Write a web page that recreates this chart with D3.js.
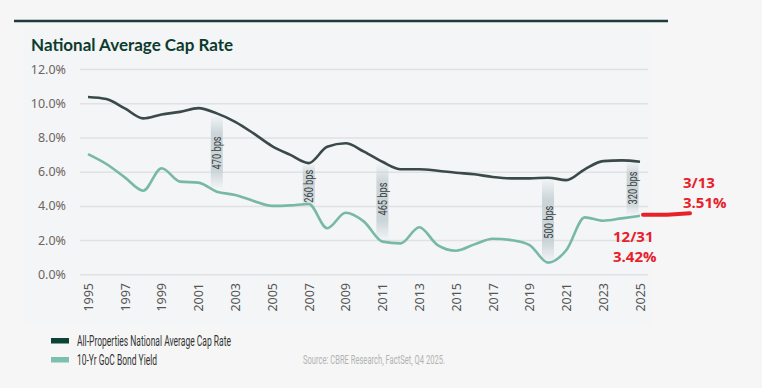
<!DOCTYPE html>
<html>
<head>
<meta charset="utf-8">
<script src="https://cdn.jsdelivr.net/npm/d3@7"></script>
<style>
  body { margin: 0; background: #f5f6f5; }
  svg { display: block; }
  .narrow { font-family: "Roboto", "Liberation Sans", sans-serif; }
</style>
</head>
<body>
<svg id="chart" width="762" height="388"></svg>
<script>
// years on the x axis
var years = d3.range(1995, 2026);
// all-properties national average cap rate (%)
var capRate = [10.37, 10.25, 9.7, 9.12, 9.35, 9.5, 9.72, 9.41, 8.92, 8.24, 7.5, 6.98, 6.5, 7.46, 7.66, 7.17, 6.58, 6.14, 6.14, 6.06, 5.94, 5.85, 5.69, 5.61, 5.61, 5.65, 5.51, 6.14, 6.62, 6.66, 6.58];
// 10-yr GoC bond yield (%)
var bondYield = [7.03, 6.45, 5.67, 4.89, 6.2, 5.42, 5.36, 4.83, 4.64, 4.29, 4.0, 4.03, 4.11, 2.69, 3.6, 3.08, 1.91, 1.81, 2.75, 1.71, 1.38, 1.75, 2.08, 2.0, 1.71, 0.68, 1.42, 3.33, 3.13, 3.27, 3.42];
var yTicks = [0, 2, 4, 6, 8, 10, 12];
var xTicks = d3.range(1995, 2026, 2);
// spread call-outs
var spreadYears = [2002, 2007, 2011, 2020, 2024.6];
var spreadLabels = ["470 bps", "260 bps", "465 bps", "500 bps", "320 bps"];
var spreadTop = [9.3, 6.5, 6.5, 5.6, 6.6];
var spreadBottom = [5.0, 3.9, 2.0, 0.7, 3.45];
var spreadText = [7.1, 5.15, 4.4, 3.05, 5.05];
// latest marks
var latestLabels = [["3/13", "3.51%"], ["12/31", "3.42%"]];
var latestValue = 3.51;

var svg = d3.select("#chart");

var x = d3.scaleLinear().domain([1995, 2025]).range([88, 640]);
var y = d3.scaleLinear().domain([0, 12]).range([274.3, 69.1]);

// panel bg
svg.append("rect").attr("x", 23).attr("y", 30).attr("width", 628).attr("height", 296).attr("fill", "#f3f5f7");

svg.append("line").attr("x1", 14).attr("x2", 668).attr("y1", 21).attr("y2", 21)
  .attr("stroke", "#1f3b3b").attr("stroke-width", 2.5);

svg.append("text").attr("x", 31).attr("y", 51)
  .attr("font-family", "Lato, 'Open Sans', sans-serif").attr("font-weight", 700)
  .attr("font-size", 17).attr("fill", "#0c3b2e").text("National Average Cap Rate");

// grid
var yAxis = svg.append("g").attr("transform", "translate(80,0)")
  .call(d3.axisLeft(y).tickValues(yTicks).tickSize(-568).tickFormat(function(d) { return d.toFixed(1) + "%"; }));
yAxis.select(".domain").remove();
yAxis.selectAll(".tick line").attr("stroke", "#e0e1e3").attr("stroke-width", 1.5);
yAxis.selectAll(".tick text").attr("x", -14).attr("fill", "#6e655e")
  .attr("font-family", "'Noto Sans', sans-serif").attr("font-size", 12.5);

var xAxis = svg.append("g").attr("transform", "translate(0,283)")
  .call(d3.axisBottom(x).tickValues(xTicks).tickSize(0).tickFormat(d3.format("d")));
xAxis.select(".domain").remove();
xAxis.selectAll(".tick text")
  .attr("transform", "rotate(-90)").attr("text-anchor", "end").attr("dx", 0).attr("dy", "0.35em").attr("x", 0).attr("y", 0)
  .attr("fill", "#555").attr("font-family", "'Noto Sans', sans-serif").attr("font-size", 12.5);

// spread bars
var defs = svg.append("defs");
var grad = defs.append("linearGradient").attr("id", "fade").attr("x1", 0).attr("x2", 0).attr("y1", 0).attr("y2", 1);
grad.append("stop").attr("offset", "0%").attr("stop-color", "#c7d1d5").attr("stop-opacity", 0);
grad.append("stop").attr("offset", "25%").attr("stop-color", "#c7d1d5").attr("stop-opacity", 0.9);
grad.append("stop").attr("offset", "75%").attr("stop-color", "#c7d1d5").attr("stop-opacity", 0.9);
grad.append("stop").attr("offset", "100%").attr("stop-color", "#c7d1d5").attr("stop-opacity", 0);

var spread = svg.append("g").selectAll("g").data(spreadYears).enter().append("g");
spread.append("rect")
  .attr("x", function(d) { return x(d) - 6; })
  .attr("y", function(d, i) { return y(spreadTop[i]); })
  .attr("width", 12)
  .attr("height", function(d, i) { return y(spreadBottom[i]) - y(spreadTop[i]); })
  .attr("fill", "url(#fade)");
spread.append("text").attr("class", "narrow")
  .attr("transform", function(d, i) { return "translate(" + (x(d) + 4.5) + "," + y(spreadText[i]) + ") rotate(-90)"; })
  .attr("text-anchor", "middle").attr("font-size", 12).attr("fill", "#3b4242")
  .attr("textLength", 33).attr("lengthAdjust", "spacingAndGlyphs")
  .text(function(d, i) { return spreadLabels[i]; });

// lines
var line = d3.line().curve(d3.curveMonotoneX)
  .x(function(d, i) { return x(years[i]); })
  .y(function(d) { return y(d); });

svg.append("path").datum(bondYield).attr("d", line).attr("fill", "none")
  .attr("stroke", "#78b9a5").attr("stroke-width", 2.6);
svg.append("path").datum(capRate).attr("d", line).attr("fill", "none")
  .attr("stroke", "#3b4949").attr("stroke-width", 2.6);

// latest red mark
svg.append("path")
  .attr("d", "M" + (x(2025) + 3) + "," + (y(latestValue) + 0.5) + " L" + (x(2025) + 27) + "," + (y(latestValue) + 0.5)
    + " L" + (x(2025) + 50) + "," + (y(latestValue) - 1))
  .attr("fill", "none").attr("stroke", "#e8202a").attr("stroke-width", 4).attr("stroke-linecap", "round");

var red = svg.append("g").attr("font-family", "'Open Sans', sans-serif").attr("font-weight", 700)
  .attr("font-size", 15).attr("fill", "#e8202a");
red.append("text").attr("x", 683).attr("y", 188).text(latestLabels[0][0]);
red.append("text").attr("x", 683).attr("y", 208).text(latestLabels[0][1]);
red.append("text").attr("x", 613).attr("y", 242).text(latestLabels[1][0]);
red.append("text").attr("x", 613).attr("y", 262).text(latestLabels[1][1]);

// legend
var legend = svg.append("g").attr("class", "narrow").attr("font-size", 14.5).attr("fill", "#333");
legend.append("rect").attr("x", 51).attr("y", 338).attr("width", 18).attr("height", 5.5).attr("fill", "#0b4434");
legend.append("text").attr("x", 77).attr("y", 345.5).attr("textLength", 154).attr("lengthAdjust", "spacingAndGlyphs")
  .text("All-Properties National Average Cap Rate");
legend.append("rect").attr("x", 51).attr("y", 357).attr("width", 18).attr("height", 5.5).attr("fill", "#7fbfae");
legend.append("text").attr("x", 77).attr("y", 365).attr("textLength", 80).attr("lengthAdjust", "spacingAndGlyphs")
  .text("10-Yr GoC Bond Yield");

svg.append("text").attr("class", "narrow").attr("x", 303).attr("y", 363.5)
  .attr("font-size", 12.5).attr("fill", "#b3b3b3").attr("textLength", 142).attr("lengthAdjust", "spacingAndGlyphs")
  .text("Source: CBRE Research, FactSet, Q4 2025.");
</script>
</body>
</html>
